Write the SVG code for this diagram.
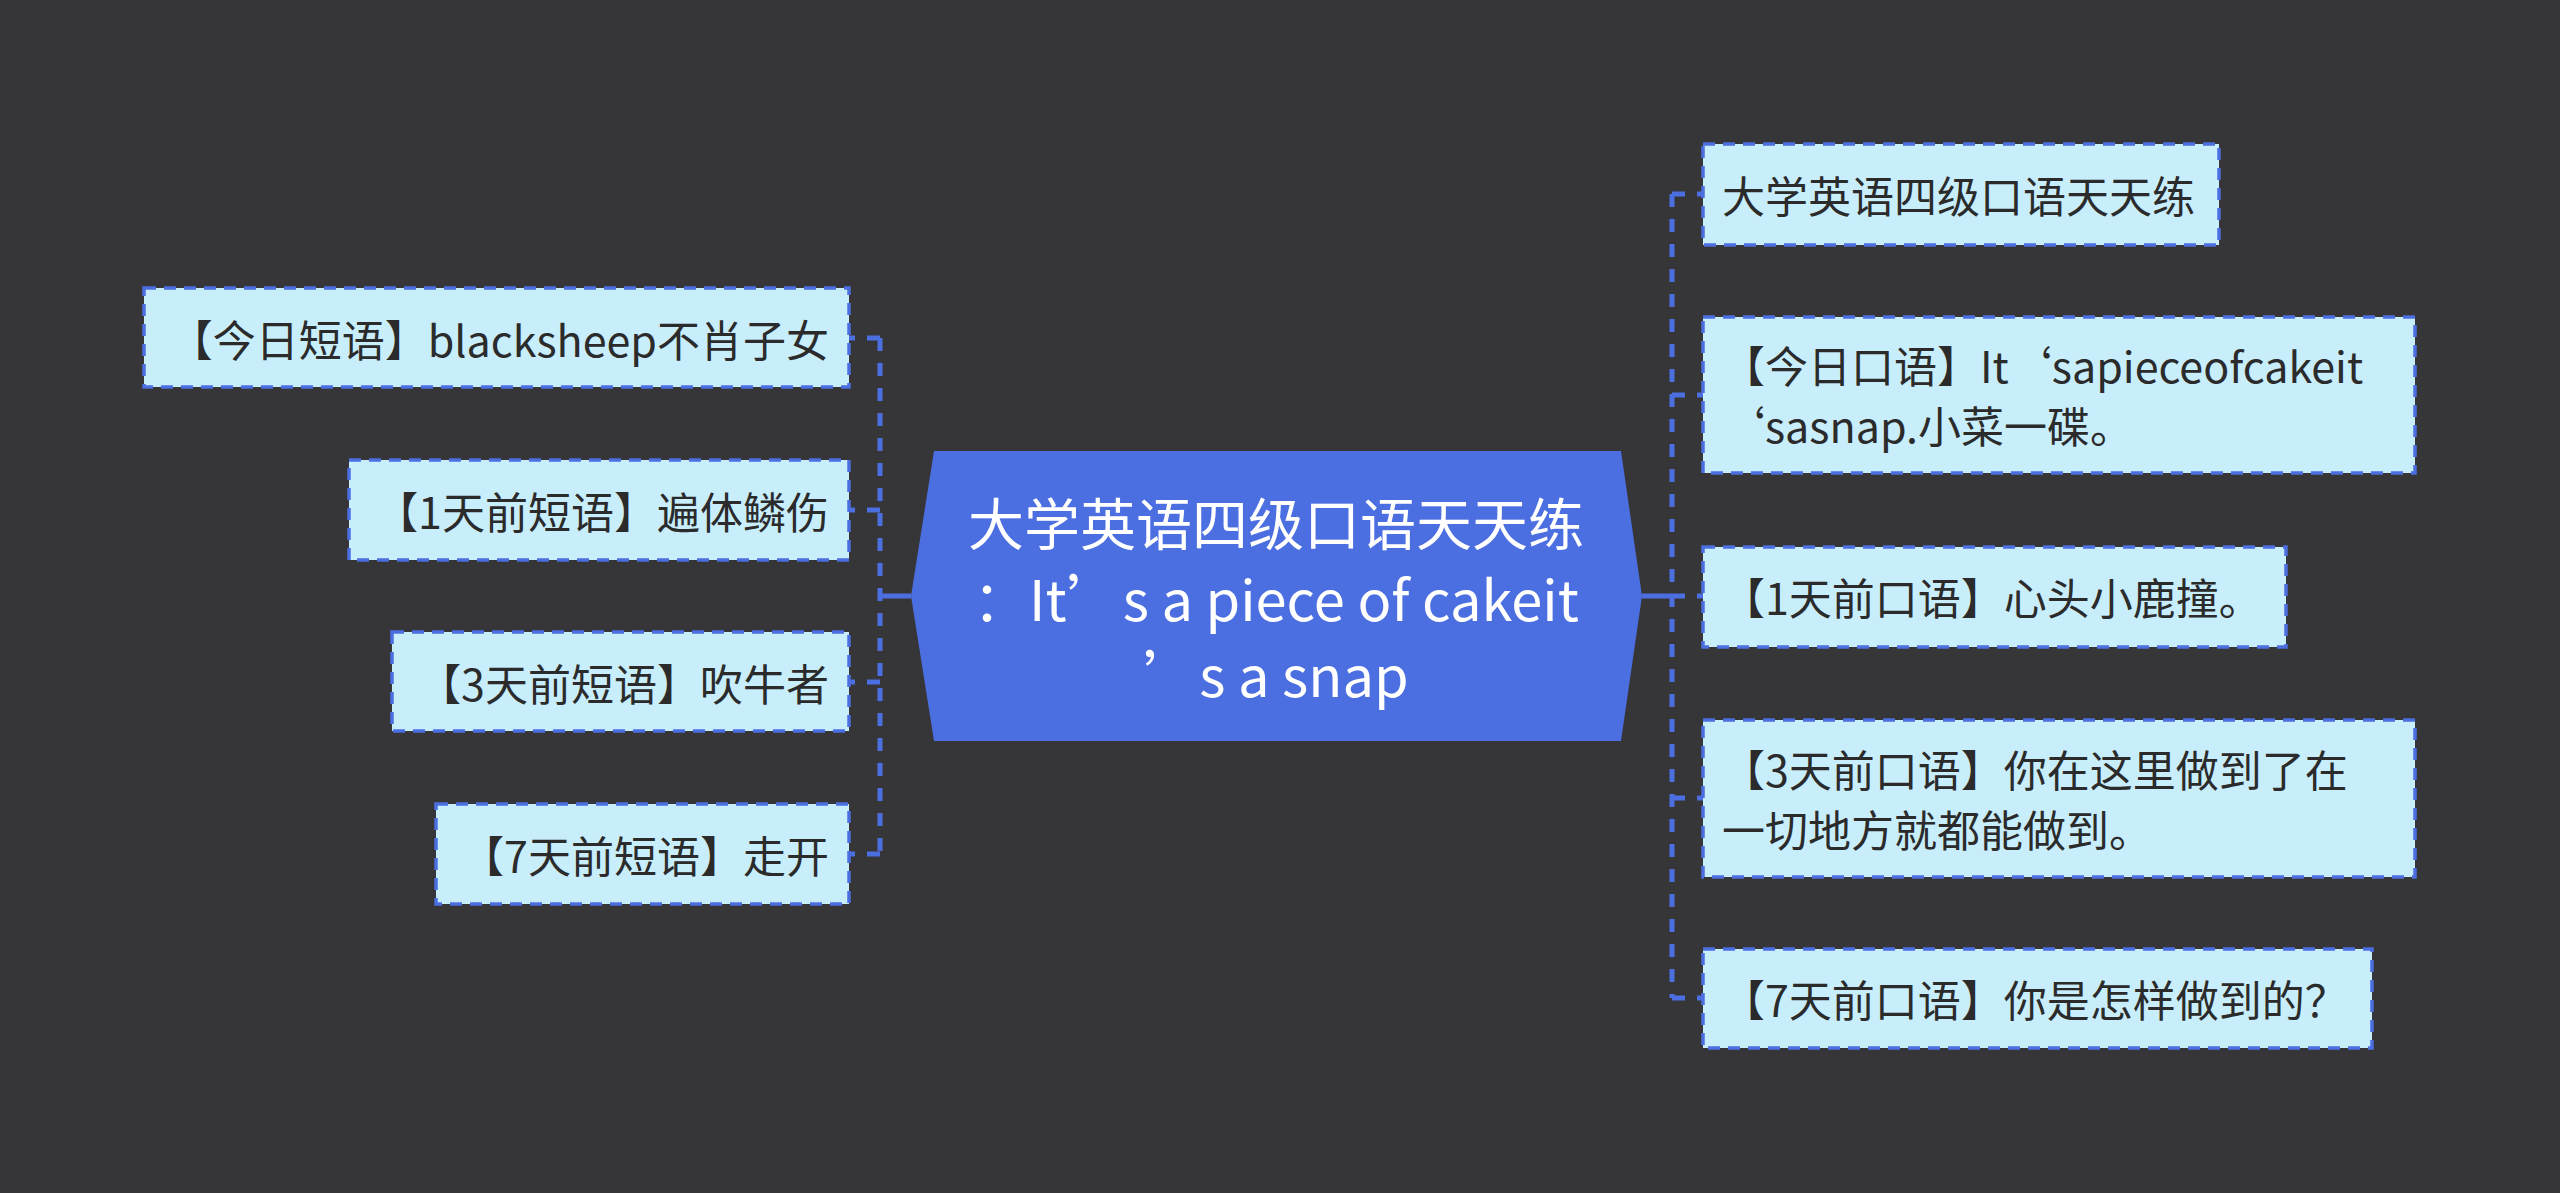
<svg xmlns="http://www.w3.org/2000/svg" width="2560" height="1193" viewBox="0 0 2560 1193">
<style>
.bg{fill:#363537}
.box{fill:#c8eefc;stroke:#4b6ee0;stroke-width:3.5;stroke-dasharray:12 8}
.t{font-family:"Noto Sans CJK SC","Noto Sans",sans-serif;font-size:43px;fill:#2b2b2b;dominant-baseline:central}
.l{text-anchor:end}
.r{text-anchor:start}
.c{font-family:"Noto Sans CJK SC","Noto Sans",sans-serif;font-size:56px;fill:#ffffff;text-anchor:middle;dominant-baseline:central}
.solid{stroke:#4b6ee0;stroke-width:5;fill:none}
.dash{stroke:#4b6ee0;stroke-width:5;fill:none;stroke-dasharray:13 12}
</style>
<rect class="bg" x="0" y="0" width="2560" height="1193"/>
<g id="connectors">
<line class="solid" x1="880" y1="596" x2="911" y2="596"/>
<line class="dash" x1="880" y1="338" x2="880" y2="854"/>
<line class="dash" x1="880" y1="338" x2="849" y2="338"/>
<line class="dash" x1="880" y1="510" x2="849" y2="510"/>
<line class="dash" x1="880" y1="682" x2="849" y2="682"/>
<line class="dash" x1="880" y1="854" x2="849" y2="854"/>
<line class="solid" x1="1642" y1="596" x2="1672" y2="596"/>
<line class="dash" x1="1672" y1="194" x2="1672" y2="998"/>
<line class="dash" x1="1672" y1="194" x2="1703" y2="194"/>
<line class="dash" x1="1672" y1="395" x2="1703" y2="395"/>
<line class="dash" x1="1672" y1="596" x2="1703" y2="596"/>
<line class="dash" x1="1672" y1="798" x2="1703" y2="798"/>
<line class="dash" x1="1672" y1="998" x2="1703" y2="998"/>
</g>
<g id="center">
<polygon points="934,451 1621,451 1642,596 1621,741 934,741 911,596" fill="#4b6ee0"/>
<text class="c" x="1276" y="520">大学英语四级口语天天练</text>
<text class="c" x="1276" y="596">：It’s a piece of cakeit</text>
<text class="c" x="1276" y="672">’s a snap</text>
</g>
<g id="left1">
<rect class="box" x="144" y="288" width="705" height="99"/>
<text class="t l" x="829" y="338">【今日短语】blacksheep不肖子女</text>
</g>
<g id="left2">
<rect class="box" x="349" y="460" width="500" height="100"/>
<text class="t l" x="829" y="510">【1天前短语】遍体鳞伤</text>
</g>
<g id="left3">
<rect class="box" x="392" y="632" width="457" height="99"/>
<text class="t l" x="829" y="682">【3天前短语】吹牛者</text>
</g>
<g id="left4">
<rect class="box" x="436" y="804" width="413" height="100"/>
<text class="t l" x="829" y="854">【7天前短语】走开</text>
</g>
<g id="right1">
<rect class="box" x="1703" y="144" width="516" height="101"/>
<text class="t r" x="1722" y="194">大学英语四级口语天天练</text>
</g>
<g id="right2">
<rect class="box" x="1703" y="317" width="712" height="156"/>
<text class="t r" x="1722" y="364">【今日口语】It‘sapieceofcakeit</text>
<text class="t r" x="1722" y="424">‘sasnap.小菜一碟。</text>
</g>
<g id="right3">
<rect class="box" x="1703" y="547" width="583" height="100"/>
<text class="t r" x="1722" y="596">【1天前口语】心头小鹿撞。</text>
</g>
<g id="right4">
<rect class="box" x="1703" y="720" width="712" height="157"/>
<text class="t r" x="1722" y="768">【3天前口语】你在这里做到了在</text>
<text class="t r" x="1722" y="828">一切地方就都能做到。</text>
</g>
<g id="right5">
<rect class="box" x="1703" y="949" width="669" height="99"/>
<text class="t r" x="1722" y="998">【7天前口语】你是怎样做到的？</text>
</g>
</svg>
